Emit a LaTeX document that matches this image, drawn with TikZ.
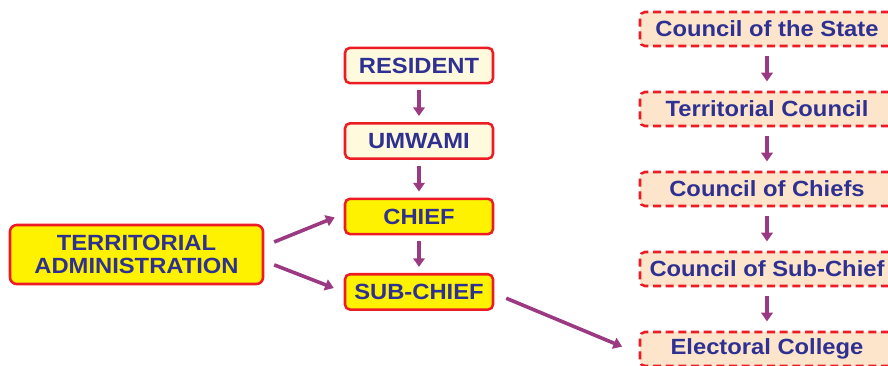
\documentclass[tikz,border=0pt]{standalone}
\usepackage{fontspec}
\setmainfont{Liberation Sans}[FakeStretch=1.08]
\usetikzlibrary{shapes, arrows.meta, positioning}
\definecolor{navytext}{RGB}{46,49,146}
\definecolor{boxred}{RGB}{237,28,36}
\definecolor{chiefyellow}{RGB}{255,242,0}
\definecolor{cream}{RGB}{255,250,222}
\definecolor{peach}{RGB}{253,229,203}
\definecolor{arrowpurple}{RGB}{156,57,131}

\begin{document}
\begin{tikzpicture}[x=0.75pt, y=-0.75pt, node distance=56.6pt, every node/.style={font=\fontsize{16.5}{17.5}\selectfont\bfseries, text=navytext, align=center}]
    \tikzstyle{paleproc} = [rectangle, rounded corners=3.75pt, minimum width=111pt, minimum height=26.5pt, draw=boxred, line width=1.9pt, fill=cream]
    \tikzstyle{chiefproc} = [rectangle, rounded corners=3.75pt, minimum width=111pt, minimum height=26.5pt, draw=boxred, line width=1.9pt, fill=chiefyellow]
    \tikzstyle{adminproc} = [rectangle, rounded corners=5pt, minimum width=189.75pt, minimum height=44.25pt, draw=boxred, line width=1.9pt, fill=chiefyellow]
    \tikzstyle{council} = [rectangle, rounded corners=3.75pt, minimum width=190.5pt, minimum height=25.5pt, draw=boxred, line width=1.9pt, dash pattern=on 6pt off 3.5pt, fill=peach]
    \tikzstyle{arrow} = [line width=2.7pt, draw=arrowpurple, -{Triangle[length=6.5pt, width=8.5pt]}]

    \useasboundingbox (0,0) rectangle (888,365);
    \clip (0,0) rectangle (888,365);

    % Nodes
    \node (admin) [adminproc] at (136.5,254.5) {TERRITORIAL\\ADMINISTRATION};

    \node (resident) [paleproc] at (419,65.5) {RESIDENT};
    \node (umwami) [paleproc, below of=resident] {UMWAMI};
    \node (chief) [chiefproc, below of=umwami] {CHIEF};
    \node (subchief) [chiefproc, below of=chief] {SUB-CHIEF};

    \node (state) [council] at (767,29) {Council of the State};
    \node (terrcouncil) [council, below of=state, yshift=-3.4pt] {Territorial Council};
    \node (chiefscouncil) [council, below of=terrcouncil, yshift=-3.4pt] {Council of Chiefs};
    \node (subcouncil) [council, below of=chiefscouncil, yshift=-3.4pt] {Council of Sub-Chief};
    \node (college) [council, below of=subcouncil, yshift=-3.4pt] {Electoral College};

    % Connections
    \draw [arrow, shorten <=4.2pt, shorten >=4.5pt] (resident) -- (umwami);
    \draw [arrow, shorten <=4.2pt, shorten >=4.5pt] (umwami) -- (chief);
    \draw [arrow, shorten <=4.2pt, shorten >=4.5pt] (chief) -- (subchief);

    \draw [arrow, shorten <=8pt, shorten >=7.3pt] ([yshift=6.4pt]admin.east) -- ([yshift=2pt]chief.west);
    \draw [arrow, shorten <=8pt, shorten >=8pt] ([yshift=-4.9pt]admin.east) -- (subchief.west);
    \draw [arrow, shorten <=9.7pt, shorten >=13.5pt] ([yshift=-1pt]subchief.east) -- ([yshift=-3.4pt]college.west);

    \draw [arrow, shorten <=6.75pt, shorten >=7pt] (state) -- (terrcouncil);
    \draw [arrow, shorten <=6.75pt, shorten >=7pt] (terrcouncil) -- (chiefscouncil);
    \draw [arrow, shorten <=6.75pt, shorten >=7pt] (chiefscouncil) -- (subcouncil);
    \draw [arrow, shorten <=6.75pt, shorten >=7pt] (subcouncil) -- (college);
\end{tikzpicture}
\end{document}
